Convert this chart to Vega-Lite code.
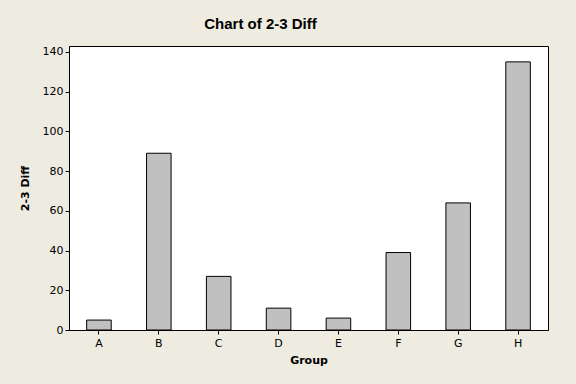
{
  "$schema": "https://vega.github.io/schema/vega-lite/v6.json",
  "autosize": "none",
  "width": 479,
  "height": 284,
  "padding": {"left": 69, "top": 46, "right": 28, "bottom": 54},
  "background": "#EEEBE0",
  "title": {
    "text": "Chart of 2-3 Diff",
    "font": "Liberation Sans",
    "fontSize": 15,
    "fontWeight": "bold",
    "color": "#000000",
    "anchor": "middle",
    "frame": "group",
    "dx": -48,
    "offset": 14
  },
  "data": {
    "values": [
      {"Group": "A", "Diff": 5},
      {"Group": "B", "Diff": 89},
      {"Group": "C", "Diff": 27},
      {"Group": "D", "Diff": 11},
      {"Group": "E", "Diff": 6},
      {"Group": "F", "Diff": 39},
      {"Group": "G", "Diff": 64},
      {"Group": "H", "Diff": 135}
    ]
  },
  "mark": {"type": "bar", "fill": "#C0C0C0", "stroke": "#000000", "strokeWidth": 1},
  "encoding": {
    "x": {
      "field": "Group",
      "type": "nominal",
      "title": "Group",
      "scale": {"paddingInner": 0.59, "paddingOuter": 0.295},
      "axis": {"labelAngle": 0, "tickSize": 4, "labelPadding": 3, "titlePadding": 6}
    },
    "y": {
      "field": "Diff",
      "type": "quantitative",
      "title": "2-3 Diff",
      "scale": {"domain": [0, 143], "nice": false},
      "axis": {"values": [0, 20, 40, 60, 80, 100, 120, 140], "tickSize": 4, "labelPadding": 2, "titlePadding": 12, "grid": false}
    }
  },
  "config": {
    "view": {"stroke": "#000000", "strokeWidth": 1, "fill": "#FFFFFF"},
    "axis": {
      "domainColor": "#000000",
      "tickColor": "#000000",
      "labelColor": "#000000",
      "titleColor": "#000000",
      "labelFont": "DejaVu Sans",
      "labelFontSize": 11,
      "titleFont": "DejaVu Sans",
      "titleFontSize": 11,
      "titleFontWeight": "bold"
    }
  }
}
